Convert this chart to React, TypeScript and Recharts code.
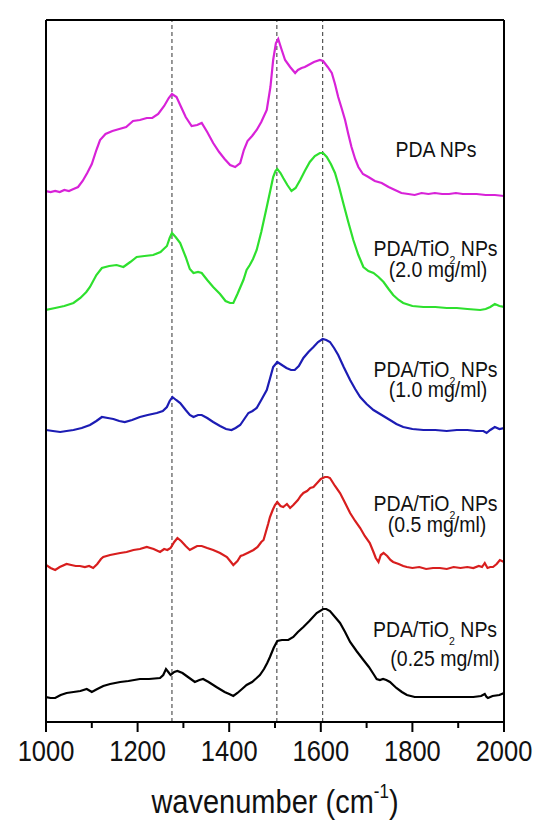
import React from 'react';
import { LineChart, Line, XAxis, YAxis, ReferenceLine, Customized } from 'recharts';

type P = [number, number];

// wavenumber (cm-1), absorbance (arbitrary units, curves stacked with offsets)
const pdaNPs: P[] = [
  [1000,531],[1010,530],[1020,531],[1030,530],[1040,532],[1050,531],[1060,533],[1070,535],[1080,541],[1090,549],
  [1100,558],[1110,572],[1118,582],[1130,588],[1145,591],[1160,593],[1175,595],[1190,601],[1205,602],[1220,604],
  [1232,604],[1245,608],[1258,616],[1268,624],[1275,628],[1285,625],[1295,615],[1305,605],[1318,596],[1330,597],
  [1340,599],[1352,590],[1365,579],[1378,570],[1390,563],[1402,557],[1413,555],[1424,559],[1432,572],[1440,581],
  [1450,586],[1460,592],[1470,600],[1482,612],[1490,635],[1496,662],[1502,679],[1507,683],[1514,673],[1522,662],
  [1533,655],[1544,649],[1550,652],[1558,654],[1565,655],[1573,657],[1585,660],[1598,662],[1605,661],[1615,655],
  [1624,649],[1631,638],[1638,625],[1646,613],[1653,602],[1660,588],[1667,575],[1675,563],[1682,555],[1692,548],
  [1704,545],[1718,541],[1733,539],[1748,535],[1762,532],[1776,529],[1791,528],[1805,527],[1820,529],[1835,528],
  [1849,529],[1865,528],[1880,528],[1895,529],[1910,528],[1922,528],[1940,528],[1960,527],[1980,527],[2000,526],
];

const tio2_20: P[] = [
  [1000,412],[1020,414],[1040,416],[1060,419],[1075,424],[1088,430],[1096,435],[1110,447],[1122,454],[1138,456],
  [1154,457],[1169,455],[1184,460],[1198,465],[1215,466],[1234,467],[1250,470],[1264,476],[1270,484],[1275,489],
  [1283,485],[1293,479],[1305,465],[1314,453],[1322,449],[1332,450],[1340,449],[1352,442],[1365,435],[1380,428],
  [1392,421],[1402,419],[1409,419],[1418,428],[1431,442],[1438,452],[1445,457],[1452,463],[1460,472],[1470,490],
  [1482,515],[1490,532],[1496,545],[1501,551],[1505,553],[1512,549],[1518,544],[1527,537],[1536,531],[1545,534],
  [1555,542],[1565,551],[1576,560],[1587,566],[1598,569],[1605,569],[1613,565],[1622,558],[1631,549],[1640,535],
  [1649,519],[1660,500],[1671,482],[1682,467],[1693,455],[1704,451],[1715,449],[1726,445],[1737,440],[1748,433],
  [1758,427],[1770,422],[1780,419],[1800,416],[1824,415],[1850,415],[1875,414],[1897,414],[1920,413],[1948,412],
  [1960,413],[1970,415],[1980,418],[1990,416],[2000,415],
];

const tio2_10: P[] = [
  [1000,292],[1015,291],[1031,290],[1045,291],[1060,292],[1078,294],[1096,297],[1110,301],[1122,305],[1135,304],
  [1147,303],[1160,301],[1172,300],[1188,302],[1205,305],[1222,307],[1242,309],[1255,311],[1264,315],[1270,321],
  [1276,325],[1284,322],[1293,319],[1305,312],[1314,307],[1322,305],[1332,307],[1340,307],[1352,304],[1365,300],
  [1380,296],[1393,293],[1405,292],[1414,294],[1424,297],[1433,303],[1442,309],[1451,311],[1460,314],[1470,322],
  [1482,332],[1490,345],[1496,355],[1505,360],[1515,357],[1525,354],[1535,352],[1543,352],[1552,356],[1562,364],
  [1573,370],[1584,375],[1594,380],[1604,383],[1612,382],[1620,380],[1629,374],[1638,367],[1650,355],[1664,342],
  [1675,333],[1686,325],[1700,318],[1715,312],[1733,307],[1751,302],[1765,298],[1780,295],[1800,293],[1824,292],
  [1850,292],[1875,291],[1897,292],[1920,292],[1940,291],[1955,291],[1962,289],[1970,292],[1980,295],[1990,293],
  [2000,294],
];

const tio2_05: P[] = [
  [1000,157],[1010,154],[1020,152],[1030,155],[1045,158],[1055,157],[1065,156],[1074,156],[1085,155],[1094,156],
  [1103,154],[1112,158],[1120,163],[1125,165],[1140,167],[1162,169],[1176,170],[1191,172],[1205,173],[1220,175],
  [1235,173],[1249,170],[1258,173],[1265,172],[1272,174],[1280,180],[1287,184],[1295,181],[1305,176],[1314,172],
  [1322,174],[1330,176],[1340,176],[1352,174],[1365,172],[1380,169],[1395,165],[1402,161],[1409,157],[1418,161],
  [1425,166],[1431,167],[1440,169],[1453,172],[1462,175],[1470,180],[1475,182],[1480,190],[1485,198],[1489,205],
  [1495,212],[1500,217],[1505,220],[1512,216],[1518,215],[1526,218],[1533,214],[1540,217],[1550,222],[1556,226],
  [1562,229],[1570,231],[1577,234],[1584,235],[1592,239],[1600,243],[1609,245],[1615,245],[1620,244],[1631,236],
  [1642,229],[1652,220],[1664,209],[1675,201],[1686,194],[1696,186],[1707,179],[1715,170],[1720,164],[1726,160],
  [1731,167],[1737,169],[1745,166],[1752,162],[1758,160],[1770,158],[1780,156],[1788,155],[1800,154],[1815,155],
  [1830,153],[1845,154],[1860,154],[1875,153],[1890,155],[1905,154],[1920,155],[1933,154],[1945,156],[1952,155],
  [1958,159],[1964,154],[1970,155],[1976,155],[1984,158],[1991,162],[2000,160],
];

const tio2_025: P[] = [
  [1000,25],[1010,24],[1020,24],[1032,27],[1045,29],[1060,30],[1075,31],[1089,33],[1100,30],[1112,33],
  [1125,36],[1140,38],[1162,40],[1180,41],[1205,43],[1225,43],[1249,44],[1256,47],[1262,53],[1267,50],
  [1272,47],[1280,50],[1287,51],[1298,49],[1310,45],[1325,40],[1335,42],[1343,43],[1355,40],[1372,35],
  [1390,30],[1400,28],[1409,26],[1418,29],[1428,33],[1438,37],[1450,40],[1460,44],[1467,47],[1476,53],
  [1483,59],[1489,65],[1497,74],[1505,81],[1515,82],[1529,82],[1540,85],[1550,90],[1562,95],[1575,101],
  [1591,109],[1605,113],[1612,113],[1620,111],[1631,105],[1642,99],[1653,90],[1664,80],[1678,71],[1693,62],
  [1705,55],[1715,48],[1722,43],[1729,42],[1736,43],[1743,42],[1751,40],[1765,34],[1777,30],[1788,27],
  [1805,25],[1824,25],[1850,25],[1880,25],[1910,25],[1933,25],[1950,26],[1958,28],[1962,25],[1965,24],
  [1975,26],[1990,27],[2000,29],
];

const xTicks = [1000, 1100, 1200, 1300, 1400, 1500, 1600, 1700, 1800, 1900, 2000];
const majorTicks = [1000, 1200, 1400, 1600, 1800, 2000];
const peakLines = [1275, 1504, 1604];

const FONT = '"Liberation Sans", Arial, Helvetica, sans-serif';
const STRETCH = 1.15;
const LABEL_STRETCH = 1.1;

const toPts = (a: P[]) => a.map(([x, y]) => ({ x, y }));

const seriesList = [
  { name: 'PDA NPs', data: toPts(pdaNPs), color: '#D822D8' },
  { name: 'PDA/TiO2 NPs (2.0 mg/ml)', data: toPts(tio2_20), color: '#2EE02E' },
  { name: 'PDA/TiO2 NPs (1.0 mg/ml)', data: toPts(tio2_10), color: '#1C1CB4' },
  { name: 'PDA/TiO2 NPs (0.5 mg/ml)', data: toPts(tio2_05), color: '#D81E1E' },
  { name: 'PDA/TiO2 NPs (0.25 mg/ml)', data: toPts(tio2_025), color: '#000000' },
];

const labels = [
  { x: 436, y: 157, tio2: false, text: 'PDA NPs' },
  { x: 435.5, y: 256, tio2: true, text: '' },
  { x: 438, y: 277, tio2: false, text: '(2.0 mg/ml)' },
  { x: 435.5, y: 377, tio2: true, text: '' },
  { x: 438, y: 397, tio2: false, text: '(1.0 mg/ml)' },
  { x: 435.5, y: 511, tio2: true, text: '' },
  { x: 437, y: 532, tio2: false, text: '(0.5 mg/ml)' },
  { x: 435, y: 637, tio2: true, text: '' },
  { x: 445, y: 666, tio2: false, text: '(0.25 mg/ml)' },
];

function SeriesLabels() {
  return (
    <g>
      {labels.map((ln, i) => (
        <text
          key={i}
          transform={`translate(${ln.x},${ln.y}) scale(1,${LABEL_STRETCH})`}
          x={0}
          y={0}
          textAnchor="middle"
          fontSize={19.5}
          fontFamily={FONT}
          fill="#111"
        >
          {ln.tio2 ? (
            <>
              PDA/TiO
              <tspan fontSize={10.5} dy={7}>2</tspan>
              <tspan dy={-7}> NPs</tspan>
            </>
          ) : (
            ln.text
          )}
        </text>
      ))}
    </g>
  );
}

function XTick(props: any) {
  const { x, y, payload } = props;
  const major = majorTicks.includes(payload.value);
  return (
    <g>
      <line x1={x} x2={x} y1={y} y2={y + (major ? 10 : 6)} stroke="#000" strokeWidth={2} />
      {major && (
        <text
          transform={`translate(${x},${y + 39}) scale(1,${STRETCH})`}
          x={0}
          y={0}
          textAnchor="middle"
          fontSize={25.5}
          fontFamily={FONT}
          fill="#111"
        >
          {payload.value}
        </text>
      )}
    </g>
  );
}

function AxisTitle(props: any) {
  const vb = props.viewBox || { x: 46, y: 722, width: 458 };
  const cx = vb.x + vb.width / 2;
  return (
    <text
      transform={`translate(${cx},813) scale(1,${STRETCH})`}
      x={0}
      y={0}
      textAnchor="middle"
      fontSize={29}
      fontFamily={FONT}
      fill="#111"
    >
      wavenumber (cm
      <tspan fontSize={17} dy={-13}>-1</tspan>
      <tspan dy={13}>)</tspan>
    </text>
  );
}

export default function App() {
  return (
    <div style={{ position: 'absolute', left: 0, top: 0, width: 550, height: 838, background: '#fff' }}>
      <LineChart width={550} height={838} margin={{ top: 10, right: 36, bottom: 86, left: 36 }}>
        <XAxis
          dataKey="x"
          type="number"
          domain={[1000, 2000]}
          allowDataOverflow
          ticks={xTicks}
          interval={0}
          tickLine={false}
          tickSize={0}
          tickMargin={0}
          tick={<XTick />}
          height={30}
          axisLine={{ stroke: '#000', strokeWidth: 2 }}
          label={{ content: (p: any) => <AxisTitle {...p} /> }}
        />
        <XAxis
          xAxisId="top"
          orientation="top"
          dataKey="x"
          type="number"
          domain={[1000, 2000]}
          allowDataOverflow
          tick={false}
          tickLine={false}
          height={10}
          axisLine={{ stroke: '#000', strokeWidth: 2 }}
        />
        <YAxis
          type="number"
          domain={[0, 702]}
          allowDataOverflow
          tick={false}
          tickLine={false}
          width={10}
          axisLine={{ stroke: '#000', strokeWidth: 2 }}
        />
        <YAxis
          yAxisId="right"
          orientation="right"
          type="number"
          domain={[0, 702]}
          allowDataOverflow
          tick={false}
          tickLine={false}
          width={10}
          axisLine={{ stroke: '#000', strokeWidth: 2 }}
        />
        {peakLines.map((v) => (
          <ReferenceLine key={v} x={v} stroke="#555" strokeWidth={1.2} strokeDasharray="4 3" />
        ))}
        {seriesList.map((s) => (
          <Line
            key={s.name}
            data={s.data}
            dataKey="y"
            name={s.name}
            type="linear"
            stroke={s.color}
            strokeWidth={2.2}
            dot={false}
            activeDot={false}
            isAnimationActive={false}
          />
        ))}
        <Customized component={<SeriesLabels />} />
      </LineChart>
    </div>
  );
}
